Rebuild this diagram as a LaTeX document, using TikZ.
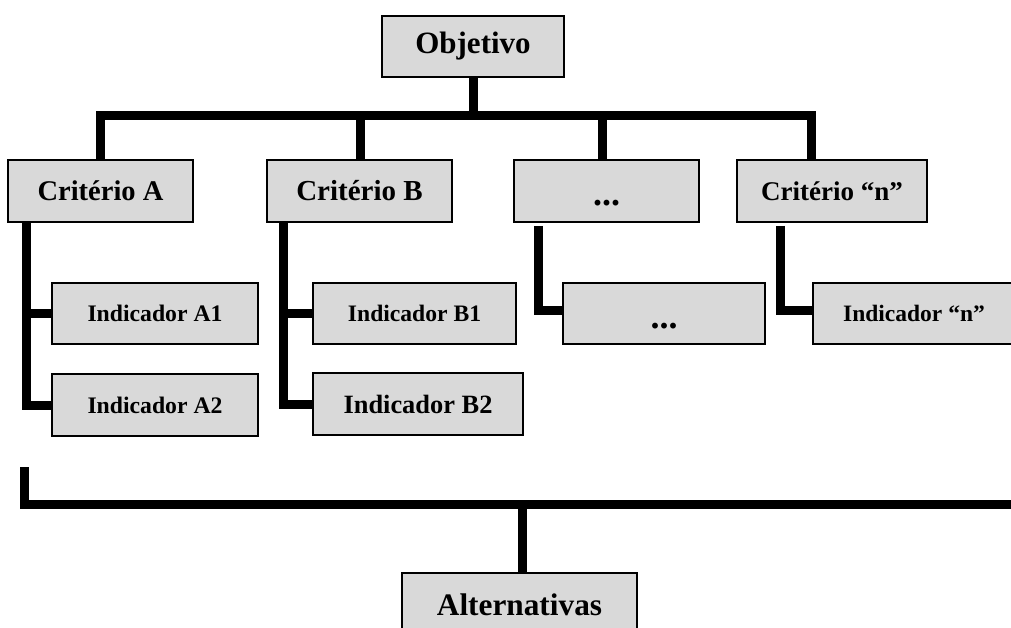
\documentclass[tikz,border=0pt]{standalone}
\usepackage{fontspec}
\setmainfont{Liberation Serif}
\definecolor{boxgray}{RGB}{217,217,217}
\begin{document}
\begin{tikzpicture}[x=1pt,y=-1pt,
  box/.style={draw=black, line width=2pt, fill=boxgray, inner sep=0pt, align=center},
  fs/.style={font=\fontsize{#1}{#1}\selectfont\bfseries},
  dots/.style={fs=36, text height=30pt, text depth=0pt},
  conn/.style={line width=9pt, line join=miter, line cap=butt}]
\clip (0,0) rectangle (1011,628);

% goal
\node[box, minimum width=182pt, minimum height=61pt, fs=31] (obj) at (473,46.5) {Objetivo};

% criteria
\node[box, minimum width=185pt, minimum height=62pt, fs=28.5] (cA) at (100.5,191) {Critério A};
\node[box, minimum width=185pt, minimum height=62pt, fs=29]   (cB) at (359.5,191) {Critério B};
\node[box, minimum width=185pt, minimum height=62pt, dots]    (cX) at (606.5,191) {...};
\node[box, minimum width=190pt, minimum height=62pt, fs=27]   (cN) at (832,191)   {Critério “n”};

% indicators
\node[box, minimum width=206pt, minimum height=61pt, fs=23.7] (iA1) at (155,313.5) {Indicador A1};
\node[box, minimum width=206pt, minimum height=62pt, fs=23.7] (iA2) at (155,405)   {Indicador A2};
\node[box, minimum width=203pt, minimum height=61pt, fs=23.6] (iB1) at (414.5,313.5) {Indicador B1};
\node[box, minimum width=210pt, minimum height=62pt, fs=26.4] (iB2) at (418,404)   {Indicador B2};
\node[box, minimum width=202pt, minimum height=61pt, dots]    (iX)  at (664,313.5) {...};
\node[box, minimum width=202pt, minimum height=61pt, fs=23.5] (iN)  at (914,313.5) {Indicador “n”};

% alternatives
\node[box, minimum width=235pt, minimum height=63pt, fs=31.3] (alt) at (519.5,604.5) {Alternativas};

% goal -> criteria
\coordinate (topbar) at (473,115.5);
\coordinate (dA) at ([xshift=93pt]cA.north west);
\coordinate (dB) at ([xshift=94pt]cB.north west);
\coordinate (dX) at ([xshift=89pt]cX.north west);
\coordinate (dN) at ([xshift=75pt]cN.north west);
\draw[conn] (obj.south) -- (topbar);
\draw[conn] (dA) |- (topbar) -| (dN);
\draw[conn] (dB) -- (dB |- topbar);
\draw[conn] (dX) -- (dX |- topbar);

% criterion -> indicators
\coordinate (sA) at ([xshift=19pt]cA.south west);
\draw[conn] (sA) |- (iA2.west);
\draw[conn] (sA |- iA1.west) -- (iA1.west);
\coordinate (sB) at ([xshift=17pt]cB.south west);
\draw[conn] (sB) |- (iB2.west);
\draw[conn] (sB |- iB1.west) -- (iB1.west);
\coordinate (sX) at ([xshift=25pt,yshift=-3pt]cX.south west);
\draw[conn] (sX) |- ([yshift=3pt]iX.west);
\coordinate (sN) at ([xshift=44pt,yshift=-3pt]cN.south west);
\draw[conn] (sN) |- ([yshift=3pt]iN.west);

% criteria -> alternatives
\coordinate (lTop) at (24,467);
\coordinate (rEnd) at (1020,504.5);
\coordinate (aTop) at ([xshift=2.5pt]alt.north);
\draw[conn] (lTop) |- (rEnd);
\draw[conn] (aTop) -- (aTop |- rEnd);
\end{tikzpicture}
\end{document}
